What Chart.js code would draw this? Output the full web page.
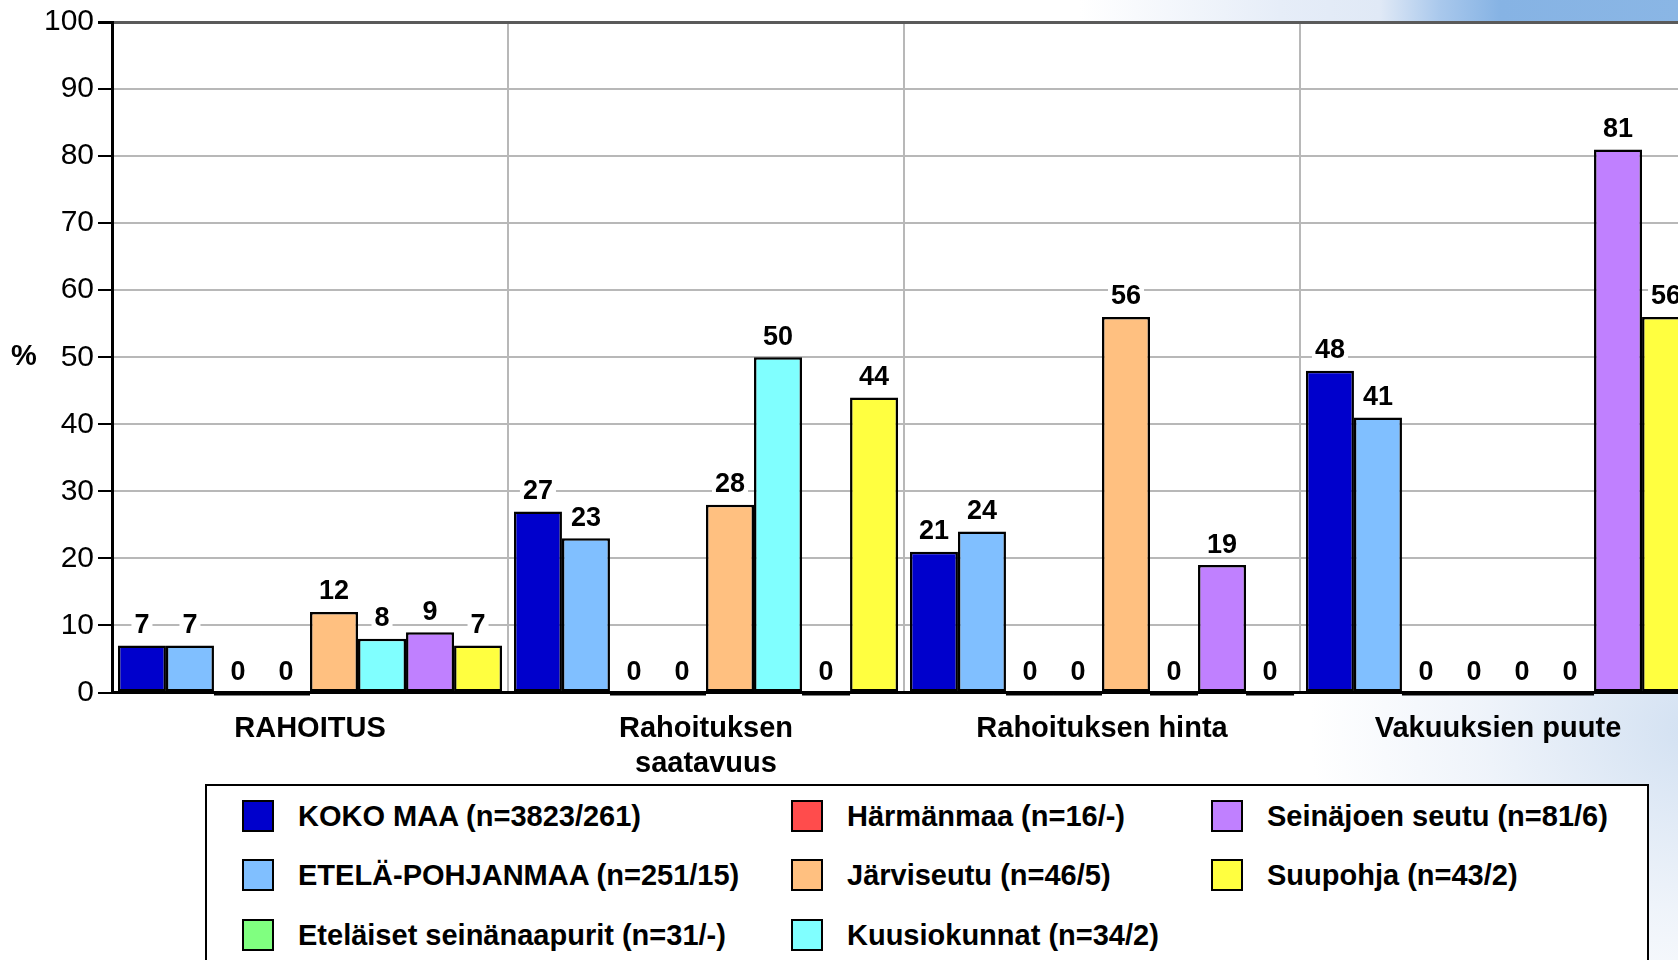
<!DOCTYPE html>
<html lang="fi">
<head>
<meta charset="utf-8">
<title>Rahoitus</title>
<script src="https://cdn.jsdelivr.net/npm/chart.js@4.4.0/dist/chart.umd.min.js"></script>
<style>
    html, body {
        margin: 0;
        padding: 0;
        width: 1678px;
        height: 960px;
        overflow: hidden;
        font-family: "Liberation Sans", Arial, sans-serif;
    }
    body {
        position: relative;
        background:
            linear-gradient(to right, rgba(255,255,255,0) 1080px, #e6edf8 1280px, #e0e9f6 1380px, #a9c8ec 1440px, #86b3e4 1500px, #8ab6e5 1678px) top left / 1678px 21px no-repeat,
            radial-gradient(ellipse 380px 330px at 1690px 730px, #d3e1f2 0%, rgba(228,236,247,0.6) 55%, rgba(255,255,255,0) 100%),
            #fff;
    }
    #wrap {
        position: absolute;
        left: 0;
        top: 0;
        width: 1700px;
        height: 782px;
    }
    #legend {
        position: absolute;
        left: 205px;
        top: 784px;
        width: 1440px;
        height: 220px;
        border: 2.5px solid #000;
        background: #fff;
    }
    .lg-item {
        position: absolute;
        height: 32px;
        display: flex;
        align-items: center;
        font-weight: bold;
        font-size: 29px;
        white-space: nowrap;
        color: #000;
    }
    .lg-box {
        width: 28px;
        height: 28px;
        border: 2px solid #000;
        margin-right: 24px;
        flex: none;
    }
</style>
</head>
<body>
<div id="wrap"><canvas id="chart"></canvas></div>
<div id="legend"></div>

<script>
// Data luettu kuvasta
const categories = ['RAHOITUS', ['Rahoituksen', 'saatavuus'], 'Rahoituksen hinta', 'Vakuuksien puute'];
const seriesNames = [
    'KOKO MAA (n=3823/261)',
    'ETELÄ-POHJANMAA (n=251/15)',
    'Eteläiset seinänaapurit (n=31/-)',
    'Härmänmaa (n=16/-)',
    'Järviseutu (n=46/5)',
    'Kuusiokunnat (n=34/2)',
    'Seinäjoen seutu (n=81/6)',
    'Suupohja (n=43/2)'
];
const kokoMaa = [7, 27, 21, 48];
const etelaPohjanmaa = [7, 23, 24, 41];
const etelaisetNaapurit = [0, 0, 0, 0];
const harmanmaa = [0, 0, 0, 0];
const jarviseutu = [12, 28, 56, 0];
const kuusiokunnat = [8, 50, 0, 0];
const seinajoenSeutu = [9, 0, 19, 81];
const suupohja = [7, 44, 0, 56];
const yTicks = [0, 10, 20, 30, 40, 50, 60, 70, 80, 90, 100];

const seriesValues = [kokoMaa, etelaPohjanmaa, etelaisetNaapurit, harmanmaa, jarviseutu, kuusiokunnat, seinajoenSeutu, suupohja];
const seriesColors = ['#0000cc', '#80bfff', '#80ff80', '#ff4c4c', '#ffc080', '#80ffff', '#c080ff', '#ffff40'];

const FONT = '"Liberation Sans", Arial, sans-serif';

document.addEventListener("DOMContentLoaded", () => {
    const canvas = document.getElementById('chart');

    // valkoinen piirtoalue + %-merkki
    const areaPlugin = {
        id: 'areaBg',
        beforeDraw(chart) {
            const { ctx, chartArea: a } = chart;
            ctx.save();
            ctx.fillStyle = '#fff';
            ctx.fillRect(a.left, a.top, a.right - a.left, a.bottom - a.top);
            ctx.fillStyle = '#000';
            ctx.font = 'bold 29px ' + FONT;
            ctx.textAlign = 'center';
            ctx.textBaseline = 'middle';
            ctx.fillText('%', 24, (a.top + a.bottom) / 2);
            ctx.restore();
        }
    };

    // arvot pylväiden päälle
    const valuePlugin = {
        id: 'values',
        afterDatasetsDraw(chart) {
            const ctx = chart.ctx;
            ctx.save();
            ctx.font = 'bold 27px ' + FONT;
            ctx.textAlign = 'center';
            ctx.textBaseline = 'middle';
            chart.data.datasets.forEach((ds, i) => {
                chart.getDatasetMeta(i).data.forEach((bar, j) => {
                    const txt = String(ds.data[j]);
                    const w = ctx.measureText(txt).width;
                    const y = bar.y - 21;
                    ctx.fillStyle = '#fff';
                    ctx.fillRect(bar.x - w / 2 - 3, y - 12, w + 6, 24);
                    ctx.fillStyle = '#000';
                    ctx.fillText(txt, bar.x, y + 1);
                    // nollapylväs näkyy paksuna viivana
                    if (ds.data[j] === 0) {
                        ctx.fillRect(bar.x - bar.width / 2, bar.y - 1, bar.width, 4);
                    }
                });
            });
            ctx.restore();
        }
    };

    const chart = new Chart(canvas.getContext('2d'), {
        type: 'bar',
        data: {
            labels: categories,
            datasets: seriesNames.map((name, i) => ({
                label: name,
                data: seriesValues[i],
                backgroundColor: seriesColors[i],
                borderColor: '#000',
                borderWidth: 2.5,
                borderSkipped: false,
                categoryPercentage: 0.97,
                barPercentage: 1.0
            }))
        },
        options: {
            responsive: true,
            maintainAspectRatio: false,
            animation: false,
            layout: { padding: { top: 21, right: 4, left: 0, bottom: 0 } },
            scales: {
                x: {
                    offset: true,
                    grid: { offset: true, color: '#b8b8b8', lineWidth: 2, drawTicks: false },
                    border: { color: '#000', width: 3 },
                    ticks: {
                        color: '#000',
                        padding: 19,
                        maxRotation: 0,
                        autoSkip: false,
                        font: { family: FONT, size: 29, weight: 'bold', lineHeight: 1.2 }
                    },
                    afterFit(scale) { scale.height = 89.5; }
                },
                y: {
                    min: 0,
                    max: 100,
                    afterBuildTicks(scale) { scale.ticks = yTicks.map(v => ({ value: v })); },
                    grid: {
                        color: ctx => ctx.tick && ctx.tick.value === 100 ? '#5a5a5a' : '#b8b8b8',
                        lineWidth: ctx => ctx.tick && ctx.tick.value === 100 ? 3 : 2,
                        tickColor: '#000',
                        tickLength: 14
                    },
                    border: { color: '#000', width: 3 },
                    ticks: {
                        color: '#000',
                        padding: 4,
                        font: { family: FONT, size: 30 }
                    },
                    afterFit(scale) { scale.width = 112; }
                }
            },
            plugins: {
                legend: { display: false },
                tooltip: { enabled: false }
            }
        },
        plugins: [areaPlugin, valuePlugin]
    });

    // selite kolmeen sarakkeeseen (sarakkeittain)
    const legend = document.getElementById('legend');
    const colX = [35, 584, 1004];
    const rowY = [14, 73, 133];
    chart.data.datasets.forEach((ds, i) => {
        const item = document.createElement('div');
        item.className = 'lg-item';
        item.style.left = colX[Math.floor(i / 3)] + 'px';
        item.style.top = rowY[i % 3] + 'px';
        const box = document.createElement('span');
        box.className = 'lg-box';
        box.style.background = ds.backgroundColor;
        const txt = document.createElement('span');
        txt.textContent = ds.label;
        item.appendChild(box);
        item.appendChild(txt);
        legend.appendChild(item);
    });
});
</script>
</body>
</html>
